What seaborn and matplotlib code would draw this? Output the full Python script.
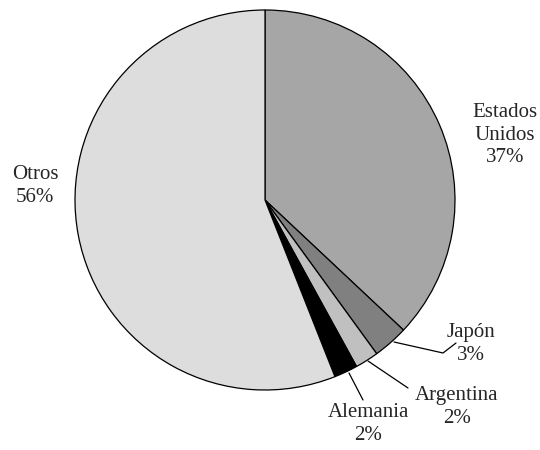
import matplotlib
matplotlib.use("Agg")
import matplotlib.pyplot as plt
import seaborn as sns

# data
paises = ["Estados\nUnidos", "Japón", "Argentina", "Alemania", "Otros"]
porcentajes = [37, 3, 2, 2, 56]
colores = ["#a6a6a6", "#808080", "#c0c0c0", "#000000", "#dddddd"]

sns.set_theme(style="white")
plt.rcParams["font.family"] = ["Liberation Serif", "DejaVu Serif"]

fig = plt.figure(figsize=(5.4, 4.5), dpi=100)
# pie centre ~ (265, 200) px, radius ~ 190 px
ax = fig.add_axes([(265 - 190) / 540, (250 - 190) / 450, 380 / 540, 380 / 450])

wedges, _ = ax.pie(
    porcentajes,
    colors=colores,
    startangle=90,
    counterclock=False,
    radius=1.0,
    wedgeprops={"edgecolor": "black", "linewidth": 0.9},
)
ax.set_xlim(-1, 1)
ax.set_ylim(-1, 1)
ax.set_aspect("equal")
ax.axis("off")


def px(x, y):
    # pixel position in the picture -> data coordinates
    return (x - 265) / 190, (200 - y) / 190


etiquetas = [f"{p}\n{v}%" for p, v in zip(paises, porcentajes)]
pos_texto = [px(505, 135), px(471, 344), px(457, 407), px(368, 424), px(35, 186)]
for txt, (tx, ty) in zip(etiquetas, pos_texto):
    ax.text(tx, ty, txt, ha="center", va="center", fontsize=15,
            linespacing=1.22, clip_on=False)

# leader lines
lineas = [
    [(394, 342), (443, 353), (456, 343)],
    [(368, 361), (408, 388)],
    [(349, 373), (363, 400)],
]
for pts in lineas:
    xs, ys = zip(*[px(a, b) for a, b in pts])
    ax.plot(xs, ys, color="black", linewidth=0.9, clip_on=False)

fig.savefig("out.png", dpi=100)
